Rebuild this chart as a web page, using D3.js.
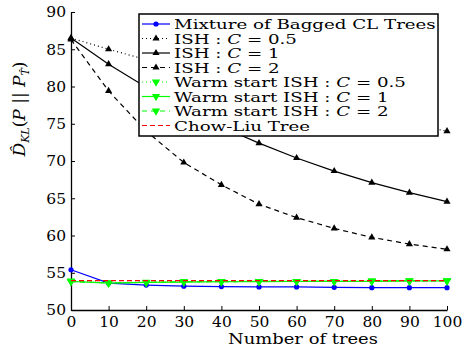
<!DOCTYPE html>
<html>
<head>
<meta charset="utf-8">
<script src="https://cdn.jsdelivr.net/npm/d3@7"></script>
<style>
  body { margin: 0; background: #fff; }
</style>
</head>
<body>
<div id="chart-area"></div>
<script>
var trees = [0, 10, 20, 30, 40, 50, 60, 70, 80, 90, 100];

var bagged = [55.4, 53.6, 53.35, 53.2, 53.15, 53.1, 53.1, 53.05, 53.0, 53.0, 53.0];
var ish05 = [86.5, 85.0, 83.6, 82.2, 80.9, 79.6, 78.3, 77.1, 76.0, 75.0, 74.0];
var ish1 = [86.5, 83.0, 79.9, 77.1, 74.6, 72.4, 70.4, 68.65, 67.1, 65.75, 64.55];
var ish2 = [86.3, 79.4, 74.0, 69.8, 66.8, 64.2, 62.4, 60.95, 59.75, 58.85, 58.15];
var warm05 = [53.9, 53.65, 53.75, 53.8, 53.8, 53.85, 53.85, 53.85, 53.9, 53.9, 53.9];
var warm1 = [53.85, 53.6, 53.7, 53.75, 53.8, 53.8, 53.85, 53.85, 53.85, 53.9, 53.9];
var warm2 = [53.8, 53.65, 53.7, 53.8, 53.8, 53.85, 53.85, 53.85, 53.9, 53.9, 53.9];
var chowLiu = [53.93, 53.93, 53.93, 53.93, 53.93, 53.93, 53.93, 53.93, 53.93, 53.93, 53.93];

var xTicks = [0, 10, 20, 30, 40, 50, 60, 70, 80, 90, 100];
var yTicks = [50, 55, 60, 65, 70, 75, 80, 85, 90];

var series = [
    { name: 'Mixture of Bagged CL Trees', values: bagged, color: '#0000ff', dash: null, marker: 'circle' },
    { name: 'ISH : ', c: '0.5', values: ish05, color: '#000', dash: '1,3', marker: 'up' },
    { name: 'ISH : ', c: '1', values: ish1, color: '#000', dash: null, marker: 'up' },
    { name: 'ISH : ', c: '2', values: ish2, color: '#000', dash: '5,4', marker: 'up' },
    { name: 'Warm start ISH : ', c: '0.5', values: warm05, color: '#00ff00', dash: '1,3', marker: 'down' },
    { name: 'Warm start ISH : ', c: '1', values: warm1, color: '#00ff00', dash: null, marker: 'down' },
    { name: 'Warm start ISH : ', c: '2', values: warm2, color: '#00ff00', dash: '5,4', marker: 'down' },
    { name: 'Chow-Liu Tree', values: chowLiu, color: '#ff0000', dash: '5,3', marker: null }
];

var FONT = '"DejaVu Serif", "Liberation Serif", serif';

var svg = d3.select('#chart-area')
    .append('svg')
    .attr('width', 471)
    .attr('height', 352)
    .attr('font-family', FONT);

var x = d3.scaleLinear().domain([0, 100]).range([71, 447]);
var y = d3.scaleLinear().domain([50, 90]).range([310, 12]);

// axes, ticks pointing inward
svg.append('g')
    .attr('transform', 'translate(0,310)')
    .call(d3.axisBottom(x).tickValues(xTicks).tickSize(-4).tickPadding(6).tickSizeOuter(0))
    .attr('font-family', FONT)
    .attr('font-size', 15.5)
    .call(function (g) {
        g.select('.domain').attr('stroke-width', 1.3);
        g.selectAll('text').attr('fill', '#000');
    });

svg.append('g')
    .attr('transform', 'translate(71,0)')
    .call(d3.axisLeft(y).tickValues(yTicks).tickSize(-4).tickPadding(5).tickSizeOuter(0))
    .attr('font-family', FONT)
    .attr('font-size', 15.5)
    .call(function (g) {
        g.select('.domain').attr('stroke-width', 1.3);
        g.selectAll('text').attr('fill', '#000');
    });

var line = d3.line()
    .x(function (d, i) { return x(trees[i]); })
    .y(function (d) { return y(d); });

function marker(sel, type, color) {
    if (type === 'circle') {
        sel.append('circle').attr('r', 2.6).attr('fill', color);
    } else if (type === 'up') {
        sel.append('path').attr('d', d3.symbol().type(d3.symbolTriangle).size(22)).attr('fill', color);
    } else if (type === 'down') {
        sel.append('path').attr('d', d3.symbol().type(d3.symbolTriangle).size(30))
            .attr('transform', 'rotate(180)').attr('fill', color);
    }
}

series.forEach(function (s) {
    svg.append('path')
        .datum(s.values)
        .attr('d', line)
        .attr('fill', 'none')
        .attr('stroke', s.color)
        .attr('stroke-width', 1.2)
        .attr('stroke-dasharray', s.dash);

    if (s.marker) {
        svg.selectAll(null)
            .data(s.values)
            .enter()
            .append('g')
            .attr('transform', function (d, i) { return 'translate(' + x(trees[i]) + ',' + y(d) + ')'; })
            .each(function () { marker(d3.select(this), s.marker, s.color); });
    }
});

// legend
var legend = svg.append('g');
legend.append('rect')
    .attr('x', 139).attr('y', 14)
    .attr('width', 299).attr('height', 122)
    .attr('fill', '#fff')
    .attr('stroke', '#000')
    .attr('stroke-width', 1.5);

var legendTexts = [];
series.forEach(function (s, i) {
    var ly = 24 + i * 14.5;
    var row = legend.append('g');
    row.append('line')
        .attr('x1', 142).attr('x2', 170)
        .attr('y1', ly).attr('y2', ly)
        .attr('stroke', s.color)
        .attr('stroke-width', 1.2)
        .attr('stroke-dasharray', s.dash);
    if (s.marker) {
        var m = row.append('g').attr('transform', 'translate(156,' + ly + ')');
        marker(m, s.marker, s.color);
    }
    var t = row.append('text')
        .attr('font-size', 13.5)
        .datum(ly);
    t.append('tspan').text(s.name);
    if (s.c) {
        t.append('tspan').attr('font-style', 'italic').text('C');
        t.append('tspan').text(' = ' + s.c);
    }
    legendTexts.push(t);
});

// stretch legend text so the longest entry reaches the box edge like the original
var kLeg = 262 / legendTexts[0].node().getComputedTextLength();
legendTexts.forEach(function (t) {
    t.attr('transform', function (ly) { return 'translate(174,' + (ly + 5) + ') scale(' + kLeg + ',1)'; });
});

// x label
var xl = svg.append('text')
    .attr('font-size', 15)
    .attr('text-anchor', 'middle')
    .text('Number of trees');
var kX = 150 / xl.node().getComputedTextLength();
xl.attr('transform', 'translate(303,344) scale(' + kX + ',1)');

// y label
var yl = svg.append('text')
    .attr('transform', 'translate(25,109) rotate(-90)')
    .attr('text-anchor', 'middle')
    .attr('font-size', 17);
yl.append('tspan').attr('font-style', 'italic').text('D\u0302');
yl.append('tspan').attr('font-style', 'italic').attr('font-size', 11).attr('dy', 4).text('KL');
yl.append('tspan').attr('dy', -4).text('(');
yl.append('tspan').attr('font-style', 'italic').text('P');
yl.append('tspan').text(' || ');
yl.append('tspan').attr('font-style', 'italic').text('P');
yl.append('tspan').attr('font-style', 'italic').attr('font-size', 11).attr('dy', 4).text('T\u0302');
yl.append('tspan').attr('dy', -4).text(')');
</script>
</body>
</html>
